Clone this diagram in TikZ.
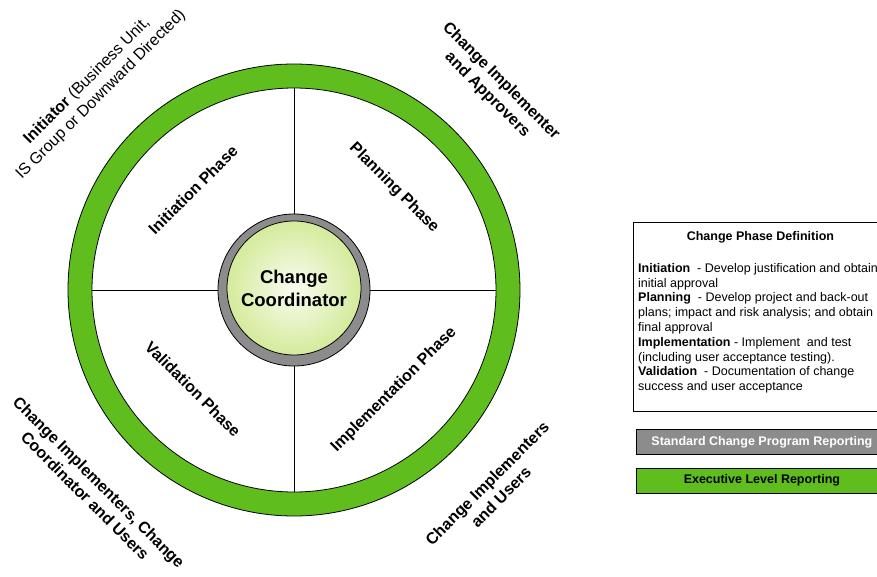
\documentclass[tikz,border=0pt]{standalone}
\usepackage{fontspec}
\setmainfont{Liberation Sans}
\usetikzlibrary{positioning}
\definecolor{verde}{RGB}{95,190,30}
\definecolor{gris}{RGB}{140,140,140}
\definecolor{verdeclaro}{RGB}{212,235,155}

\begin{document}
\begin{tikzpicture}[x=1pt,y=1pt,
        fase/.style={font=\fontsize{16}{19}\selectfont\bfseries, align=center},
        actor/.style={font=\fontsize{16}{19.5}\selectfont\bfseries, align=center},
        caja/.style={draw=black, line width=0.8pt, minimum width=251pt, minimum height=25pt,
            anchor=north west, inner sep=0pt, font=\fontsize{12.5}{15}\selectfont\bfseries}]
        \useasboundingbox (-294,-286) rectangle (583,290);
        % Anillo verde
        \node[circle, draw, line width=0.8pt, fill=verde, minimum size=452pt, inner sep=0pt] (borde) at (0,0) {};
        \node[circle, draw, line width=0.8pt, fill=white, minimum size=404pt, inner sep=0pt] (anillo) at (0,0) {};
        % Divisiones de las fases
        \draw[line width=0.8pt] (anillo.north) -- (anillo.south);
        \draw[line width=0.8pt] (anillo.west) -- (anillo.east);
        % Coordinador en el centro
        \node[circle, draw, line width=0.8pt, fill=gris, minimum size=152pt, inner sep=0pt] (coord) at (0,0) {};
        \node[circle, draw, line width=0.8pt, inner color=white!85!verdeclaro, outer color=verdeclaro,
            minimum size=134pt, inner sep=0pt, align=center, font=\fontsize{18.5}{23}\selectfont\bfseries]
            (centro) at (0,2) {Change\\Coordinator};
        % Fases
        \node[fase, rotate=45] (inicio) at (-101,100) {Initiation Phase};
        \node[fase, rotate=-45] (plan) at (100,102) {Planning Phase};
        \node[fase, rotate=-45] (valida) at (-101,-99) {Validation Phase};
        \node[fase, rotate=45] (implanta) at (100,-100) {Implementation Phase};
        % Participantes
        \node[actor, rotate=45] (iniciador) at (-200,202)
            {Initiator {\mdseries (Business Unit,}\\{\mdseries IS Group or Downward Directed)}};
        \node[actor, rotate=-45] (aprobador) at (200,202) {Change Implementer\\and Approvers};
        \node[actor, rotate=-45] (usuarios) at (-202,-199) {Change Implementers, Change\\Coordinator and Users};
        \node[actor, rotate=45] (implantador) at (200,-200) {Change Implementers\\and Users};
        % Definicion de las fases
        \node[draw, line width=0.8pt, minimum width=254pt, minimum height=189pt, anchor=north west,
            inner sep=0pt] (definicion) at (339,68) {};
        \node[font=\fontsize{12.5}{15}\selectfont\bfseries, inner sep=0pt, below=9pt of definicion.north]
            (titulo) {Change Phase Definition};
        \node[font=\fontsize{12.5}{14.8}\selectfont, align=left, inner sep=0pt,
            below right=41pt and 5pt of definicion.north west, anchor=north west] (texto)
            {\textbf{Initiation} \ - Develop justification and obtain\\
            initial approval\\
            \textbf{Planning} \ - Develop project and back-out\\
            plans; impact and risk analysis; and obtain\\
            final approval\\
            \textbf{Implementation} - Implement \ and test\\
            (including user acceptance testing).\\
            \textbf{Validation} \ - Documentation of change\\
            success and user acceptance};
        % Informes
        \node[caja, fill=gris, text=white] (estandar) at (342,-139) {Standard Change Program Reporting};
        \node[caja, fill=verde, below=13pt of estandar] (ejecutivo) {Executive Level Reporting};
    \end{tikzpicture}
\end{document}
